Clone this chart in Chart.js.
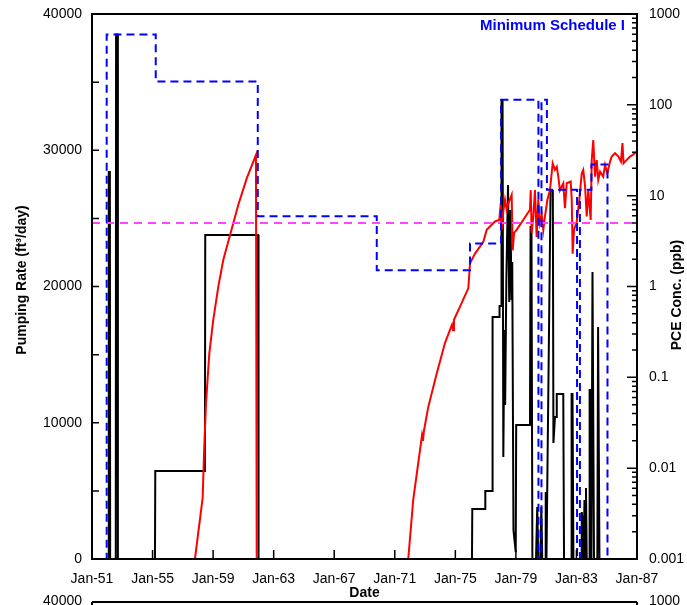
<!DOCTYPE html>
<html>
<head>
<meta charset="utf-8">
<script src="https://cdn.jsdelivr.net/npm/chart.js@4.4.0/dist/chart.umd.min.js"></script>
<style>
  html, body { margin: 0; padding: 0; background: #fff; }
  #wrap { width: 687px; height: 605px; }
</style>
</head>
<body>
<div id="wrap"><canvas id="chart" width="687" height="605"></canvas></div>
<script>
// x axis ticks (decimal years)
const xTickYears = [1951, 1955, 1959, 1963, 1967, 1971, 1975, 1979, 1983, 1987];
const xTickLabels = ["Jan-51", "Jan-55", "Jan-59", "Jan-63", "Jan-67", "Jan-71", "Jan-75", "Jan-79", "Jan-83", "Jan-87"];
const rateTicks = [0, 10000, 20000, 30000, 40000];
const pceTicks = [0.001, 0.01, 0.1, 1, 10, 100, 1000];
const pceTickLabels = ["0.001", "0.01", "0.1", "1", "10", "100", "1000"];

// pumping rate (ft3/day)
const pumpYears = [1951.00, 1952.09, 1952.11, 1952.18, 1952.20, 1952.57, 1952.59, 1952.69, 1952.71, 1955.16,
  1955.18, 1958.46, 1958.48, 1961.97, 1962.00, 1976.10, 1976.12, 1976.96, 1976.98, 1977.44,
  1977.46, 1977.90, 1977.92, 1978.03, 1978.05, 1978.12, 1978.17, 1978.24, 1978.29, 1978.37,
  1978.48, 1978.56, 1978.64, 1978.71, 1978.76, 1978.84, 1978.99, 1979.02, 1979.93, 1979.97,
  1980.03, 1980.09, 1980.33, 1980.41, 1980.48, 1980.62, 1980.68, 1980.74, 1980.93, 1980.97,
  1981.02, 1981.29, 1981.44, 1981.48, 1981.58, 1981.67, 1981.70, 1982.13, 1982.18, 1982.65,
  1982.68, 1982.74, 1982.80, 1983.32, 1983.35, 1983.42, 1983.47, 1983.53, 1983.59, 1983.63,
  1983.68, 1983.83, 1983.87, 1983.93, 1983.99, 1984.06, 1984.16, 1984.38, 1984.43, 1984.52, 1987.00];
const pumpRates = [0, 0, 28400, 28400, 0, 0, 38500, 38500, 0, 0,
  6460, 6460, 23780, 23780, 0, 0, 3670, 3670, 5000, 5000,
  17760, 17760, 18570, 18570, 33690, 33690, 7490, 16800, 11300, 20480,
  27450, 18860, 25620, 19010, 21800, 2130, 510, 9840, 9840, 24370,
  24370, 0, 0, 3820, 0, 0, 3820, 0, 0, 4920,
  0, 27010, 27010, 8510, 10420, 10420, 12110, 12110, 0, 0,
  12110, 12110, 0, 0, 3450, 2720, 0, 4330, 0, 5210,
  0, 0, 12400, 12400, 0, 21060, 0, 0, 17030, 0, 0];

// Minimum Schedule I (ft3/day)
const scheduleYears = [1951, 1951.97, 1951.97, 1955.21, 1955.21, 1961.95, 1961.95, 1969.81, 1969.81, 1975.97,
  1975.97, 1978.02, 1978.02, 1980.49, 1980.49, 1980.69, 1980.69, 1981.05, 1981.05, 1983.04,
  1983.04, 1983.23, 1983.23, 1983.99, 1983.99, 1985.05, 1985.05, 1987];
const scheduleRates = [0, 0, 38500, 38500, 35050, 35050, 25150, 25150, 21200, 21200,
  23150, 23150, 33700, 33700, 0, 0, 33700, 33700, 27100, 27100,
  0, 0, 27100, 27100, 28950, 28950, 0, 0];

// PCE concentration (ppb)
const pceEarlyYears = [1957.80, 1958.31, 1958.40, 1958.53, 1958.75, 1959.01, 1959.34, 1959.67, 1960.12, 1960.66, 1961.22, 1961.83, 1961.88];
const pceEarlyValues = [0.001, 0.0047, 0.0146, 0.052, 0.184, 0.43, 0.99, 1.96, 3.7, 7.9, 15.5, 28, 0.0009];
const pceLateYears = [1971.89, 1972.22, 1972.67, 1972.80, 1972.86, 1972.93, 1973.21, 1973.77, 1974.32, 1974.78,
  1974.85, 1974.91, 1975.31, 1975.86, 1975.97, 1976.30, 1976.85, 1977.07, 1977.62, 1977.90,
  1978.00, 1978.06, 1978.17, 1978.28, 1978.39, 1978.50, 1978.72, 1978.79, 1978.88, 1979.05,
  1979.93, 1979.98, 1980.04, 1980.15, 1980.26, 1980.37, 1980.48, 1980.59, 1980.71, 1980.81,
  1980.92, 1981.08, 1981.25, 1981.43, 1981.58, 1981.70, 1981.80, 1981.91, 1982.13, 1982.24,
  1982.36, 1982.62, 1982.69, 1982.75, 1982.84, 1983.02, 1983.19, 1983.35, 1983.45, 1983.57,
  1983.68, 1983.78, 1983.94, 1984.01, 1984.11, 1984.23, 1984.34, 1984.44, 1984.56, 1984.77,
  1984.89, 1985.04, 1985.22, 1985.33, 1985.55, 1985.77, 1985.94, 1986.04, 1986.11, 1986.21,
  1986.54, 1986.87, 1987.00];
const pceLateValues = [0.001, 0.0045, 0.016, 0.023, 0.020, 0.026, 0.047, 0.11, 0.24, 0.38,
  0.33, 0.43, 0.60, 0.96, 1.8, 2.3, 3.1, 4.2, 5.2, 5.4,
  8.2, 4.2, 6.7, 9.0, 7.0, 8.2, 10.2, 2.5, 3.9, 4.2,
  7.0, 11.5, 3.9, 5.9, 11.5, 3.5, 9.0, 5.0, 6.1, 4.2,
  5.9, 9.0, 11.5, 22.7, 19.2, 20.8, 16.2, 11.5, 13.7, 7.3,
  13.7, 14.3, 9.0, 2.3, 4.2, 5.2, 9.0, 17.6, 19.2, 12.6,
  5.9, 11.5, 5.4, 24.7, 41, 16.2, 24.7, 14.9, 18.4, 16.2,
  21.8, 17.6, 23.7, 26.9, 29.3, 26.9, 23.7, 38, 22.7, 23.7,
  26.9, 29.3, 30.5];
const mclYears = [1951, 1987];
const mclValues = [5, 5];

const FONT = '"Liberation Sans", Arial, sans-serif';
const toPoints = (xs, ys) => xs.map((x, i) => ({ x: x, y: ys[i] }));

// frame, inward ticks and the text that is not tied to a scale
const decor = {
  id: "decor",
  afterDatasetsDraw(chart) {
    const { ctx, chartArea: a } = chart;
    const sx = chart.scales.x, sl = chart.scales.yRate, sr = chart.scales.yPce;
    ctx.save();
    ctx.strokeStyle = "#000";
    ctx.lineWidth = 1.5;
    ctx.beginPath();
    for (let v = 0; v <= 40000; v += 5000) {
      const p = sl.getPixelForValue(v);
      ctx.moveTo(a.left, p); ctx.lineTo(a.left + 7, p);
    }
    pceTicks.forEach((d, k) => {
      for (let m = 1; m <= 9; m++) {
        if (k === pceTicks.length - 1 && m > 1) break;
        const p = sr.getPixelForValue(d * m);
        ctx.moveTo(a.right, p); ctx.lineTo(a.right - (m === 1 ? 10 : 5), p);
      }
    });
    xTickYears.forEach(v => {
      const p = sx.getPixelForValue(v);
      ctx.moveTo(p, a.bottom); ctx.lineTo(p, a.bottom - 9);
    });
    ctx.stroke();
    ctx.lineWidth = 2;
    ctx.strokeRect(a.left, a.top, a.right - a.left, a.bottom - a.top);

    ctx.fillStyle = "#000";
    ctx.font = "bold 14px " + FONT;
    ctx.textAlign = "center";
    ctx.textBaseline = "middle";
    ctx.fillText("Date", (a.left + a.right) / 2, 593);
    ctx.save(); ctx.translate(22, 280); ctx.rotate(-Math.PI / 2);
    ctx.fillText("Pumping Rate (ft\u00b3/day)", 0, 0); ctx.restore();
    ctx.save(); ctx.translate(677, 295); ctx.rotate(-Math.PI / 2);
    ctx.fillText("PCE Conc. (ppb)", 0, 0); ctx.restore();
    ctx.fillStyle = "#0000ff";
    ctx.font = "bold 15px " + FONT;
    ctx.textAlign = "right";
    ctx.fillText("Minimum Schedule I", 625, 26);

    // top of the next panel, cut off by the picture edge
    ctx.fillStyle = "#000";
    ctx.font = "14px " + FONT;
    ctx.textAlign = "right";
    ctx.fillText("40000", 82, 601);
    ctx.textAlign = "left";
    ctx.fillText("1000", 649, 601);
    ctx.beginPath();
    ctx.moveTo(a.left, 602); ctx.lineTo(a.right, 602);
    ctx.moveTo(a.left, 602); ctx.lineTo(a.left, 606);
    ctx.moveTo(a.right, 602); ctx.lineTo(a.right, 606);
    ctx.stroke();
    ctx.restore();
  }
};

const tickFont = { family: FONT, size: 14 };
const noPad = s => { s.paddingTop = 0; s.paddingBottom = 0; s.paddingLeft = 0; s.paddingRight = 0; };

new Chart(document.getElementById("chart"), {
  type: "scatter",
  data: {
    datasets: [
      {
        label: "Minimum Schedule I",
        data: toPoints(scheduleYears, scheduleRates),
        yAxisID: "yRate",
        borderColor: "#0000ff",
        borderWidth: 2,
        borderDash: [8, 5],
        order: 0
      },
      {
        label: "MCL",
        data: toPoints(mclYears, mclValues),
        yAxisID: "yPce",
        borderColor: "#ff44ff",
        borderWidth: 1.8,
        borderDash: [8, 6],
        order: 1
      },
      {
        label: "PCE",
        data: toPoints(pceEarlyYears, pceEarlyValues),
        yAxisID: "yPce",
        borderColor: "#ff0000",
        borderWidth: 2,
        order: 2
      },
      {
        label: "PCE late",
        data: toPoints(pceLateYears, pceLateValues),
        yAxisID: "yPce",
        borderColor: "#ff0000",
        borderWidth: 2,
        order: 2
      },
      {
        label: "Pumping Rate",
        data: toPoints(pumpYears, pumpRates),
        yAxisID: "yRate",
        borderColor: "#000000",
        borderWidth: 2,
        order: 3
      }
    ]
  },
  options: {
    responsive: false,
    animation: false,
    devicePixelRatio: 1,
    showLine: true,
    elements: { point: { radius: 0, hoverRadius: 0 }, line: { tension: 0, fill: false } },
    layout: { padding: { top: 14, left: 0, right: 0, bottom: 0 } },
    plugins: { legend: { display: false }, tooltip: { enabled: false } },
    scales: {
      x: {
        type: "linear",
        position: "bottom",
        min: 1951,
        max: 1987,
        grid: { display: false },
        border: { display: false },
        afterBuildTicks: s => { s.ticks = xTickYears.map(v => ({ value: v })); },
        afterFit: s => { s.height = 46; noPad(s); },
        ticks: {
          font: tickFont, color: "#000", padding: 4, maxRotation: 0, autoSkip: false,
          callback: (v, i) => xTickLabels[i]
        }
      },
      yRate: {
        type: "linear",
        position: "left",
        min: 0,
        max: 40000,
        grid: { display: false },
        border: { display: false },
        afterBuildTicks: s => { s.ticks = rateTicks.map(v => ({ value: v })); },
        afterFit: s => { s.width = 92; noPad(s); },
        ticks: { font: tickFont, color: "#000", padding: 2, callback: v => String(v) }
      },
      yPce: {
        type: "logarithmic",
        position: "right",
        min: 0.001,
        max: 1000,
        grid: { display: false },
        border: { display: false },
        afterBuildTicks: s => { s.ticks = pceTicks.map(v => ({ value: v })); },
        afterFit: s => { s.width = 50; noPad(s); },
        ticks: { font: tickFont, color: "#000", padding: 4, callback: (v, i) => pceTickLabels[i] }
      }
    }
  },
  plugins: [decor]
});
</script>
</body>
</html>
